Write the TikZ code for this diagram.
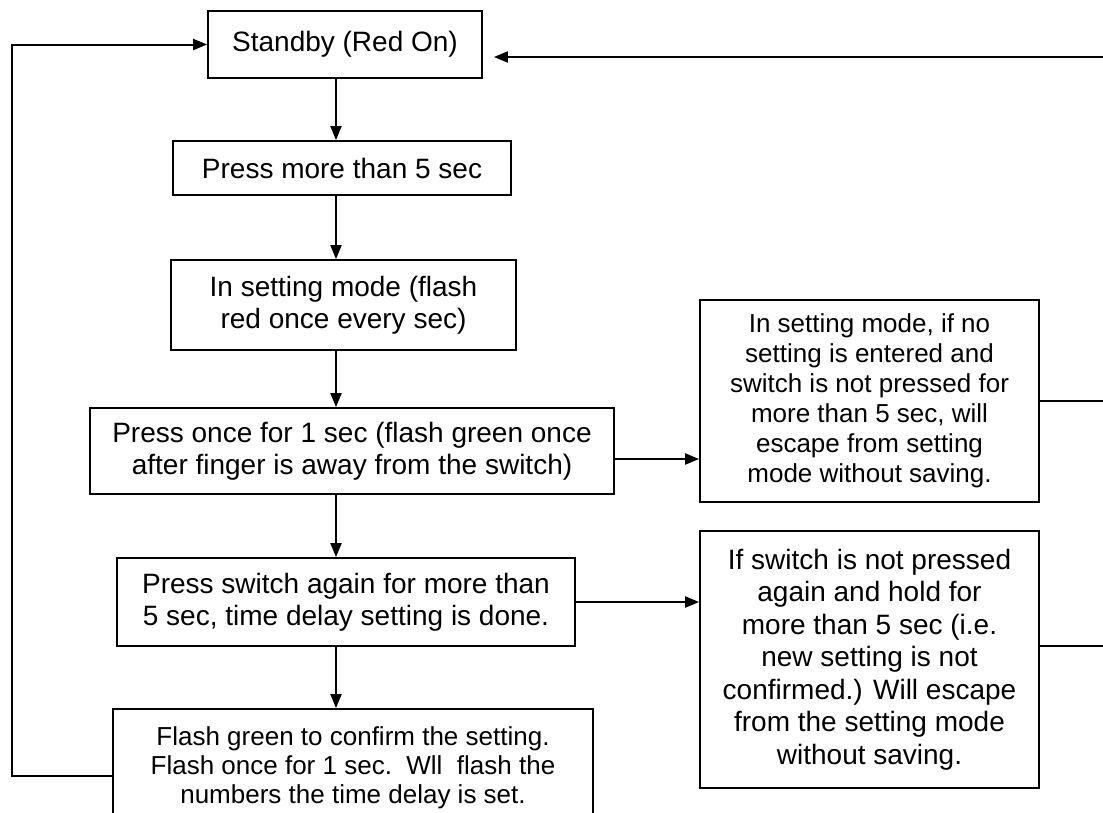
\documentclass[tikz,border=0pt]{standalone}
\usepackage{fontspec}
\setmainfont{Liberation Sans}
\usetikzlibrary{arrows.meta}
\tikzset{
  flowbox/.style={draw, line width=1.8pt, inner sep=0pt, align=center,
    font=\fontsize{28}{32}\selectfont},
  flow/.style={line width=2pt, -{Triangle[length=14pt,width=11pt]}}
}
\begin{document}
\begin{tikzpicture}[x=1pt,y=-1pt]
      \clip (0,0) rectangle (1103,812);
      \node[flowbox, minimum width=274, minimum height=67] (standby) at (345,44.5) {Standby (Red On)};
      \node[flowbox, minimum width=338, minimum height=54] (pressmore) at (342,168) {Press more than 5 sec};
      \node[flowbox, minimum width=345, minimum height=90] (setmode) at (343.5,305) {In setting mode (flash\\red once every sec)};
      \node[flowbox, minimum width=524, minimum height=86] (pressonce) at (352,451) {Press once for 1 sec (flash green once\\after finger is away from the switch)};
      \node[flowbox, minimum width=458, minimum height=88] (pressagain) at (346,602) {Press switch again for more than\\5 sec, time delay setting is done.};
      \node[flowbox, minimum width=480, minimum height=118, font=\fontsize{26}{29}\selectfont] (flash) at (353,768)
        {Flash green to confirm the setting.\\Flash once for 1 sec.\ \ Wll\ \ flash the\\numbers the time delay is set.};
      \node[flowbox, minimum width=339, minimum height=202, font=\fontsize{26}{30}\selectfont] (escone) at (869.5,401)
        {In setting mode, if no\\setting is entered and\\switch is not pressed for\\more than 5 sec, will\\escape from setting\\mode without saving.};
      \node[flowbox, minimum width=339, minimum height=257, font=\fontsize{28}{32.5}\selectfont] (esctwo) at (869.5,659.5)
        {If switch is not pressed\\again and hold for\\more than 5 sec (i.e.\\new setting is not\\confirmed.) Will escape\\from the setting mode\\without saving.};
      \coordinate (col) at (336,0);
      \coordinate (back) at (1103,57);
      \coordinate (loop) at (12,0);
      \begin{scope}[flow]
        \draw (standby.south -| col) to (pressmore.north -| col);
        \draw (pressmore.south -| col) to (setmode.north -| col);
        \draw (setmode.south -| col) to (pressonce.north -| col);
        \draw (pressonce.south -| col) to (pressagain.north -| col);
        \draw (pressagain.south -| col) to (flash.north -| col);
        \draw ([yshift=-8pt]pressonce.east) to ([yshift=-8pt]pressonce.east -| escone.west);
        \draw (pressagain.east) to (pressagain.east -| esctwo.west);
        \draw ([yshift=-8pt]flash.west) -- ([yshift=-8pt]flash.west -| loop) |- (standby.west);
        \draw[shorten >=11pt] (back) -- (back -| standby.east);
      \end{scope}
      \draw[line width=2pt] (escone.east) -- (escone.east -| back);
      \draw[line width=2pt] ([yshift=13.5pt]esctwo.east) -- ([yshift=13.5pt]esctwo.east -| back);
    \end{tikzpicture}
\end{document}
